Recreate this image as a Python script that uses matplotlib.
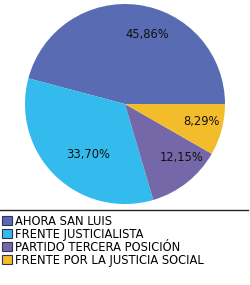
import numpy as np
import matplotlib
matplotlib.use("Agg")
import matplotlib.pyplot as plt
from matplotlib.patches import Patch
from matplotlib.lines import Line2D

parties = [
    "AHORA SAN LUIS",
    "FRENTE JUSTICIALISTA",
    "PARTIDO TERCERA POSICIÓN",
    "FRENTE POR LA JUSTICIA SOCIAL",
]
shares = [45.86, 33.70, 12.15, 8.29]
colors = ["#586bb3", "#33bbee", "#7468a8", "#f2bc2a"]

# label placement tweaks (radius fraction, angle offset in degrees)
label_r = [0.73, 0.62, 0.78, 0.78]
label_dang = [-10, 8, 8, 2]

plt.rcParams["font.family"] = "DejaVu Sans"

fig = plt.figure(figsize=(2.5, 2.85), dpi=100)
ax = fig.add_axes([0.1, 0.284, 0.8, 0.702])

wedges, _ = ax.pie(shares, colors=colors, startangle=0, counterclock=True,
                   wedgeprops=dict(linewidth=0))
ax.set_xlim(-1, 1)
ax.set_ylim(-1, 1)
ax.set_aspect("equal")

for w, val, r, da in zip(wedges, shares, label_r, label_dang):
    ang = np.deg2rad((w.theta1 + w.theta2) / 2 + da)
    txt = f"{val:.2f}%".replace(".", ",")
    ax.text(r * np.cos(ang), r * np.sin(ang), txt, ha="center", va="center",
            fontsize=8.3, color="#111111")

fig.add_artist(Line2D([0, 0.99], [0.263, 0.263], color="#222222", linewidth=1,
                      transform=fig.transFigure))

handles = [Patch(facecolor=c, edgecolor="#333355", linewidth=0.8) for c in colors]
fig.legend(handles, parties, loc="upper left", bbox_to_anchor=(0.005, 0.250),
           frameon=False, fontsize=8.3, handlelength=0.8, handleheight=0.8,
           handletextpad=0.3, labelspacing=0.0, borderpad=0.1,
           borderaxespad=0.0)

fig.savefig("out.png", dpi=100)
